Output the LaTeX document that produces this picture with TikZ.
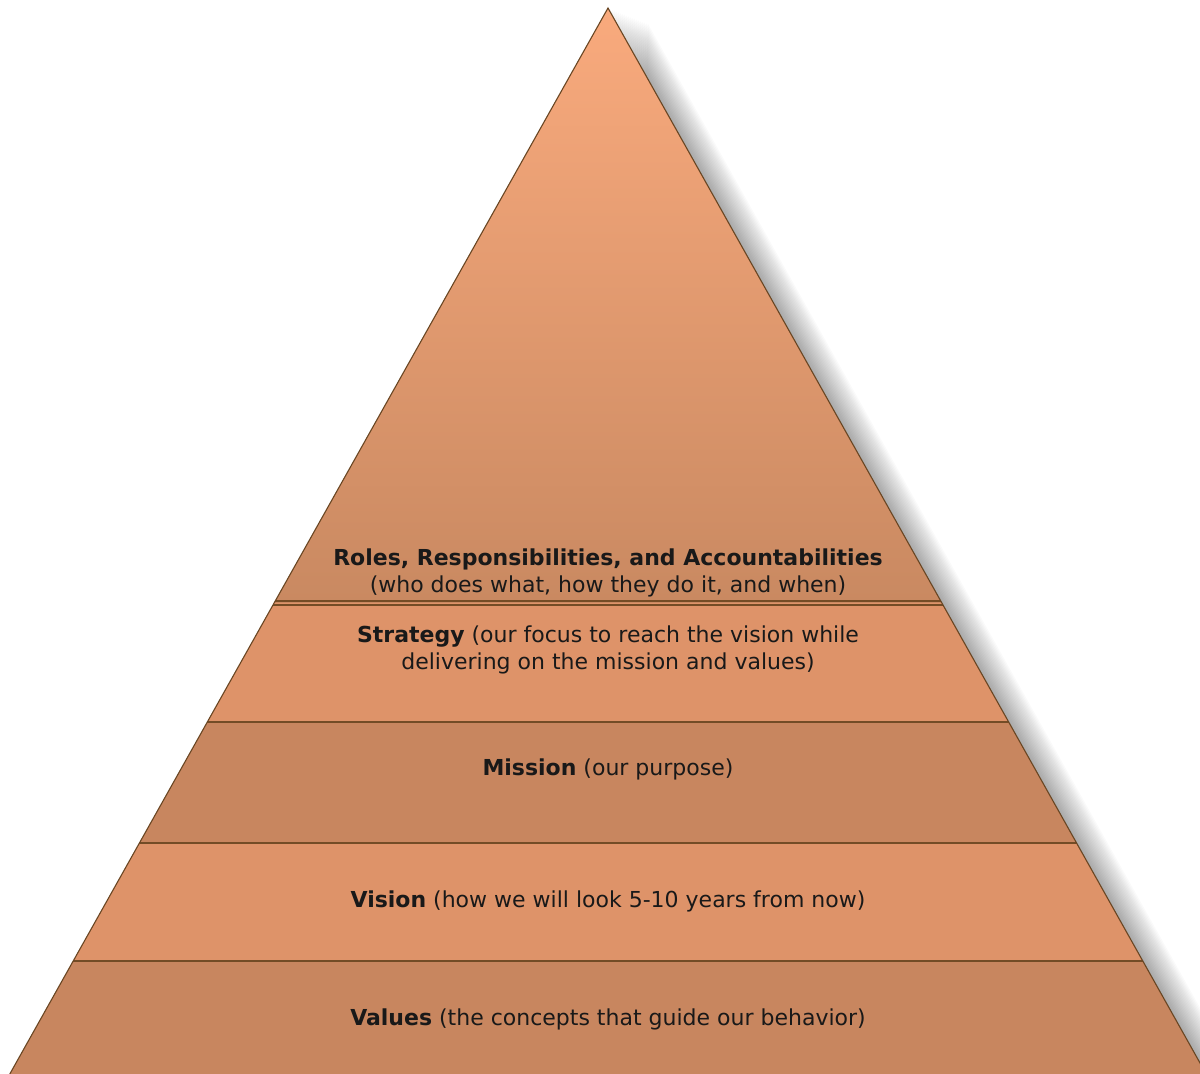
\documentclass[tikz,border=0pt]{standalone}
\usepackage{fontspec}
\setmainfont{DejaVu Sans}
\begin{document}
\begin{tikzpicture}[x=1pt,y=-1pt,
  txt/.style={text=black!90, align=center, font=\fontsize{22}{27}\selectfont, inner sep=0pt},
  sep/.style={draw=brown!60!black, line width=1.2pt},
  edge/.style={draw=brown!55!black, line width=1.1pt}]
\definecolor{topc}{HTML}{F9AA7D}
\definecolor{botc}{HTML}{C98961}
\definecolor{light}{HTML}{DE9369}
\definecolor{dark}{HTML}{C8865F}
\useasboundingbox (0,0) rectangle (1200,1074);
\begin{scope}
\clip (0,0) rectangle (1200,1074);
% shadow
\foreach \i in {2,4,...,40} {
  \fill[black, opacity=0.018] (608+\i,8+\i*0.4) -- (1206.2+\i,1074+\i*0.4) -- (608,1074) -- cycle;
}
% top triangle gradient
\shade[top color=topc, bottom color=botc] (608,8) -- (941.9,603) -- (274.1,603) -- cycle;
\fill[light] (274.1,603) -- (941.9,603) -- (1008.7,722) -- (207.3,722) -- cycle;
\fill[dark] (207.3,722) -- (1008.7,722) -- (1076.6,843) -- (139.4,843) -- cycle;
\fill[light] (139.4,843) -- (1076.6,843) -- (1142.8,961) -- (73.2,961) -- cycle;
\fill[dark] (73.2,961) -- (1142.8,961) -- (1206.2,1074) -- (9.8,1074) -- cycle;
% separators
\draw[sep] (275.2,601) -- (940.8,601);
\draw[sep] (273,605) -- (943,605);
\draw[sep] (207.3,722) -- (1008.7,722);
\draw[sep] (139.4,843) -- (1076.6,843);
\draw[sep] (73.2,961) -- (1142.8,961);
% outline
\draw[edge, line join=miter] (9.8,1074) -- (608,8) -- (1206.2,1074);
\end{scope}
% texts
\node[txt] (roles) at (608,573) {\textbf{Roles, Responsibilities, and Accountabilities}\\(who does what, how they do it, and when)};
\node[txt] (strategy) at (608,650) {\textbf{Strategy} (our focus to reach the vision while\\delivering on the mission and values)};
\node[txt] (mission) at (608,769.5) {\textbf{Mission} (our purpose)};
\node[txt] (vision) at (608,901.5) {\textbf{Vision} (how we will look 5-10 years from now)};
\node[txt] (values) at (608,1019.5) {\textbf{Values} (the concepts that guide our behavior)};
\end{tikzpicture}
\end{document}
